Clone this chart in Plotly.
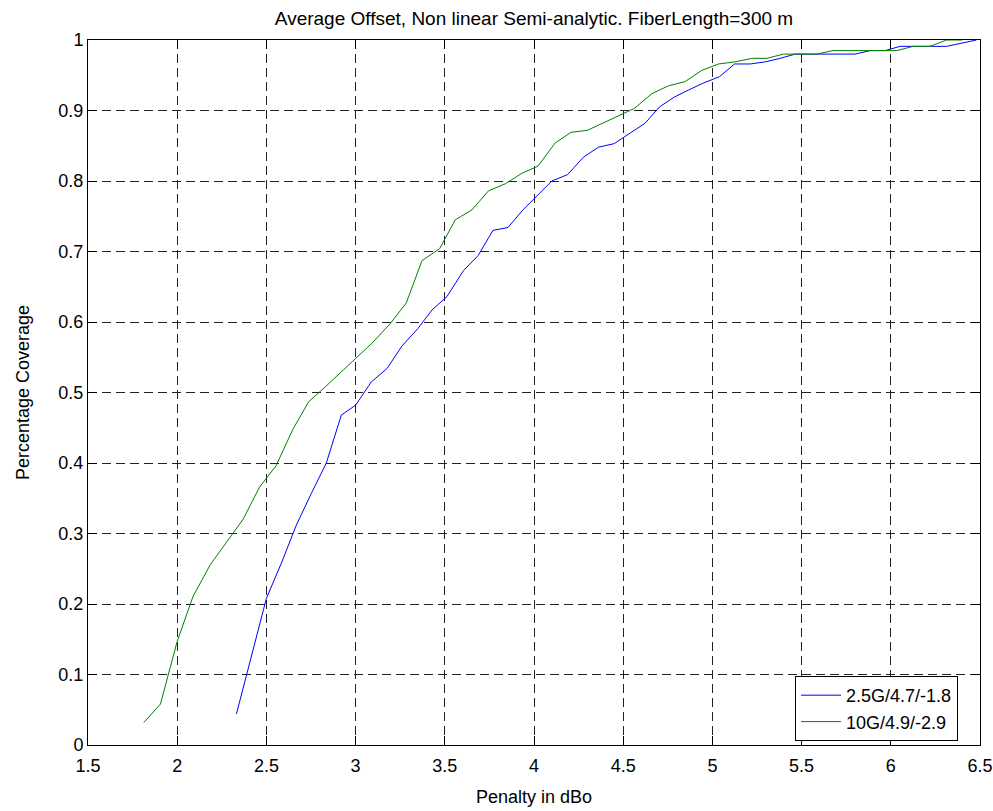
import plotly.graph_objects as go

# Penalty (dBo) vs. fraction of covered cases, 2.5G link
penalty_25g = [2.332, 2.416, 2.500, 2.584, 2.668, 2.752, 2.836, 2.920, 3.000,
               3.088, 3.176, 3.260, 3.350, 3.428, 3.512, 3.605, 3.686, 3.770,
               3.854, 3.938, 4.026, 4.100, 4.188, 4.278, 4.362, 4.450, 4.539,
               4.623, 4.703, 4.786, 4.866, 4.950, 5.040, 5.124, 5.212, 5.296,
               5.380, 5.464, 5.550, 5.630, 5.720, 5.800, 5.884, 5.969, 6.052,
               6.140, 6.220, 6.313, 6.480]
coverage_25g = [0.044, 0.125, 0.208, 0.258, 0.312, 0.357, 0.400, 0.468, 0.482,
                0.515, 0.534, 0.566, 0.591, 0.617, 0.636, 0.673, 0.694, 0.730,
                0.734, 0.759, 0.781, 0.800, 0.809, 0.834, 0.848, 0.853, 0.868,
                0.882, 0.905, 0.919, 0.929, 0.939, 0.948, 0.966, 0.966, 0.969,
                0.974, 0.980, 0.980, 0.980, 0.980, 0.980, 0.985, 0.985, 0.991,
                0.991, 0.991, 0.991, 1.000]

# Penalty (dBo) vs. fraction of covered cases, 10G link
penalty_10g = [1.813, 1.906, 2.000, 2.089, 2.186, 2.278, 2.369, 2.462, 2.554,
               2.647, 2.737, 2.830, 2.915, 2.995, 3.092, 3.195, 3.284, 3.372,
               3.471, 3.559, 3.652, 3.745, 3.839, 3.932, 4.022, 4.119, 4.207,
               4.300, 4.394, 4.487, 4.563, 4.661, 4.754, 4.847, 4.941, 5.034,
               5.127, 5.221, 5.305, 5.398, 5.492, 5.585, 5.675, 5.770, 5.860,
               5.950, 6.033, 6.126, 6.220, 6.313, 6.400]
coverage_10g = [0.032, 0.058, 0.147, 0.211, 0.256, 0.289, 0.320, 0.366, 0.396,
                0.447, 0.487, 0.508, 0.528, 0.546, 0.570, 0.598, 0.627, 0.687,
                0.704, 0.745, 0.759, 0.786, 0.796, 0.811, 0.821, 0.854, 0.869,
                0.872, 0.883, 0.894, 0.903, 0.924, 0.935, 0.941, 0.957, 0.966,
                0.969, 0.974, 0.974, 0.980, 0.980, 0.980, 0.985, 0.985, 0.985,
                0.985, 0.985, 0.991, 0.991, 1.000, 1.000]

series_names = ["2.5G/4.7/-1.8", "10G/4.9/-2.9"]
x_ticks = [1.5, 2, 2.5, 3, 3.5, 4, 4.5, 5, 5.5, 6, 6.5]
y_ticks = [0, 0.1, 0.2, 0.3, 0.4, 0.5, 0.6, 0.7, 0.8, 0.9, 1]

FONT = "Liberation Sans, Arial, Helvetica, sans-serif"
FS = 18

fig = go.Figure()
fig.add_trace(go.Scatter(x=penalty_25g, y=coverage_25g, mode="lines",
                         name=series_names[0],
                         line=dict(color="#0000ff", width=1)))
fig.add_trace(go.Scatter(x=penalty_10g, y=coverage_10g, mode="lines",
                         name=series_names[1],
                         line=dict(color="#008000", width=1)))

axis_common = dict(
    showline=True, linecolor="black", linewidth=1, mirror="ticks",
    ticks="inside", ticklen=9, tickcolor="black", tickwidth=1,
    showgrid=True, gridcolor="#222222", gridwidth=1, griddash="9px,5px",
    zeroline=False, automargin=False,
    tickfont=dict(family=FONT, size=FS, color="black"),
)

fig.update_layout(
    width=993, height=811,
    margin=dict(l=88, r=13, t=40, b=66),
    paper_bgcolor="white", plot_bgcolor="white",
    font=dict(family=FONT, size=FS, color="black"),
    title=dict(text="Average Offset, Non linear Semi-analytic. FiberLength=300 m",
               x=0.5, xref="paper", xanchor="center",
               y=1 - 18.5 / 811, yref="container", yanchor="middle",
               font=dict(family=FONT, size=FS + 1, color="black")),
    xaxis=dict(range=[1.5, 6.5], tickvals=x_ticks,
               ticktext=[f"{v:g}" for v in x_ticks],
               ticklabelstandoff=4,
               title=dict(text="Penalty in dBo", standoff=15,
                          font=dict(family=FONT, size=FS, color="black")),
               **axis_common),
    yaxis=dict(range=[0, 1], tickvals=y_ticks,
               ticktext=[f"{v:g}" for v in y_ticks],
               title=dict(text="Percentage Coverage", standoff=24,
                          font=dict(family=FONT, size=FS, color="black")),
               **axis_common),
    legend=dict(x=0.884, xanchor="center", y=0.0518, yanchor="middle",
                bgcolor="white", bordercolor="black", borderwidth=1,
                font=dict(family=FONT, size=FS, color="black"),
                itemwidth=40, entrywidth=150, entrywidthmode="pixels",
                tracegroupgap=0),
    showlegend=True,
)

fig.write_html("out.html")
